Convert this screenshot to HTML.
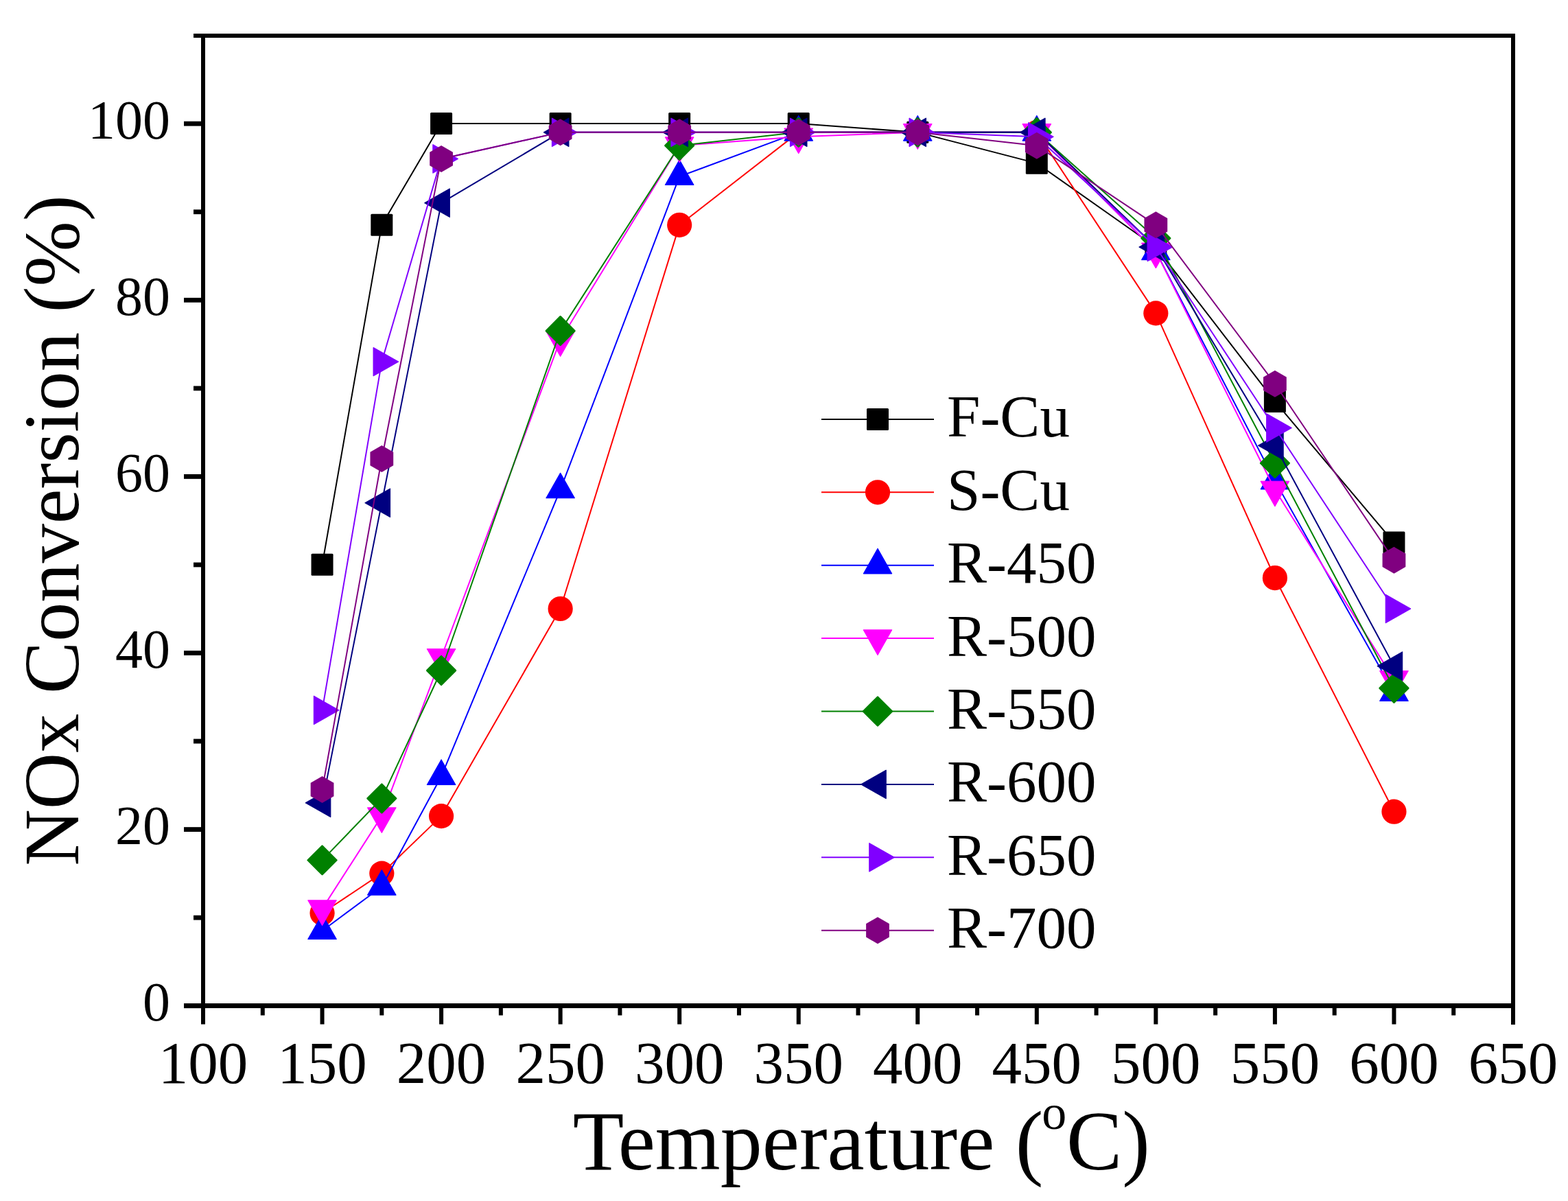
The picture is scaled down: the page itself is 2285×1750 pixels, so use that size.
<!DOCTYPE html><html><head><meta charset="utf-8"><style>html,body{margin:0;padding:0;background:#fff;overflow:hidden;}svg{display:block;}text{font-family:"Liberation Serif","Times New Roman",serif;fill:#000;}</style></head><body>
<svg width="2285" height="1750" viewBox="0 0 2285 1750">
<rect width="2285" height="1750" fill="#fff"/>
<polyline points="469.55,822.75 556.32,327.83 643.09,180.00 816.64,180.00 990.18,180.00 1163.73,180.00 1337.27,192.86 1510.82,237.85 1684.36,359.97 1857.91,584.93 2031.45,790.61" fill="none" stroke="#000000" stroke-width="2" stroke-linejoin="round"/>
<rect x="453.55" y="806.75" width="32.00" height="32.00" rx="1.5" fill="#000000"/>
<rect x="540.32" y="311.83" width="32.00" height="32.00" rx="1.5" fill="#000000"/>
<rect x="627.09" y="164.00" width="32.00" height="32.00" rx="1.5" fill="#000000"/>
<rect x="800.64" y="164.00" width="32.00" height="32.00" rx="1.5" fill="#000000"/>
<rect x="974.18" y="164.00" width="32.00" height="32.00" rx="1.5" fill="#000000"/>
<rect x="1147.73" y="164.00" width="32.00" height="32.00" rx="1.5" fill="#000000"/>
<rect x="1321.27" y="176.86" width="32.00" height="32.00" rx="1.5" fill="#000000"/>
<rect x="1494.82" y="221.85" width="32.00" height="32.00" rx="1.5" fill="#000000"/>
<rect x="1668.36" y="343.97" width="32.00" height="32.00" rx="1.5" fill="#000000"/>
<rect x="1841.91" y="568.93" width="32.00" height="32.00" rx="1.5" fill="#000000"/>
<rect x="2015.45" y="774.61" width="32.00" height="32.00" rx="1.5" fill="#000000"/>
<polyline points="469.55,1330.52 556.32,1272.67 643.09,1189.12 816.64,887.02 990.18,327.83 1163.73,192.86 1337.27,192.86 1510.82,192.86 1684.36,456.38 1857.91,842.03 2031.45,1182.69" fill="none" stroke="#FF0000" stroke-width="2" stroke-linejoin="round"/>
<circle cx="469.55" cy="1330.52" r="18.1" fill="#FF0000"/>
<circle cx="556.32" cy="1272.67" r="18.1" fill="#FF0000"/>
<circle cx="643.09" cy="1189.12" r="18.1" fill="#FF0000"/>
<circle cx="816.64" cy="887.02" r="18.1" fill="#FF0000"/>
<circle cx="990.18" cy="327.83" r="18.1" fill="#FF0000"/>
<circle cx="1163.73" cy="192.86" r="18.1" fill="#FF0000"/>
<circle cx="1337.27" cy="192.86" r="18.1" fill="#FF0000"/>
<circle cx="1510.82" cy="192.86" r="18.1" fill="#FF0000"/>
<circle cx="1684.36" cy="456.38" r="18.1" fill="#FF0000"/>
<circle cx="1857.91" cy="842.03" r="18.1" fill="#FF0000"/>
<circle cx="2031.45" cy="1182.69" r="18.1" fill="#FF0000"/>
<polyline points="469.55,1356.23 556.32,1291.96 643.09,1131.27 816.64,713.48 990.18,257.13 1163.73,192.86 1337.27,192.86 1510.82,192.86 1684.36,366.40 1857.91,700.63 2031.45,1009.15" fill="none" stroke="#0000FF" stroke-width="2" stroke-linejoin="round"/>
<polygon points="469.55,1331.63 490.45,1368.53 448.65,1368.53" fill="#0000FF" stroke="#0000FF" stroke-width="1" stroke-linejoin="bevel"/>
<polygon points="556.32,1267.36 577.22,1304.26 535.42,1304.26" fill="#0000FF" stroke="#0000FF" stroke-width="1" stroke-linejoin="bevel"/>
<polygon points="643.09,1106.67 663.99,1143.57 622.19,1143.57" fill="#0000FF" stroke="#0000FF" stroke-width="1" stroke-linejoin="bevel"/>
<polygon points="816.64,688.88 837.54,725.78 795.74,725.78" fill="#0000FF" stroke="#0000FF" stroke-width="1" stroke-linejoin="bevel"/>
<polygon points="990.18,232.53 1011.08,269.43 969.28,269.43" fill="#0000FF" stroke="#0000FF" stroke-width="1" stroke-linejoin="bevel"/>
<polygon points="1163.73,168.26 1184.63,205.16 1142.83,205.16" fill="#0000FF" stroke="#0000FF" stroke-width="1" stroke-linejoin="bevel"/>
<polygon points="1337.27,168.26 1358.17,205.16 1316.37,205.16" fill="#0000FF" stroke="#0000FF" stroke-width="1" stroke-linejoin="bevel"/>
<polygon points="1510.82,168.26 1531.72,205.16 1489.92,205.16" fill="#0000FF" stroke="#0000FF" stroke-width="1" stroke-linejoin="bevel"/>
<polygon points="1684.36,341.80 1705.26,378.70 1663.46,378.70" fill="#0000FF" stroke="#0000FF" stroke-width="1" stroke-linejoin="bevel"/>
<polygon points="1857.91,676.03 1878.81,712.93 1837.01,712.93" fill="#0000FF" stroke="#0000FF" stroke-width="1" stroke-linejoin="bevel"/>
<polygon points="2031.45,984.55 2052.35,1021.45 2010.55,1021.45" fill="#0000FF" stroke="#0000FF" stroke-width="1" stroke-linejoin="bevel"/>
<polyline points="469.55,1324.10 556.32,1189.12 643.09,957.73 816.64,494.95 990.18,212.14 1163.73,199.28 1337.27,192.86 1510.82,192.86 1684.36,366.40 1857.91,713.48 2031.45,989.87" fill="none" stroke="#FF00FF" stroke-width="2" stroke-linejoin="round"/>
<polygon points="469.55,1348.69 490.45,1311.80 448.65,1311.80" fill="#FF00FF" stroke="#FF00FF" stroke-width="1" stroke-linejoin="bevel"/>
<polygon points="556.32,1213.72 577.22,1176.82 535.42,1176.82" fill="#FF00FF" stroke="#FF00FF" stroke-width="1" stroke-linejoin="bevel"/>
<polygon points="643.09,982.33 663.99,945.43 622.19,945.43" fill="#FF00FF" stroke="#FF00FF" stroke-width="1" stroke-linejoin="bevel"/>
<polygon points="816.64,519.55 837.54,482.65 795.74,482.65" fill="#FF00FF" stroke="#FF00FF" stroke-width="1" stroke-linejoin="bevel"/>
<polygon points="990.18,236.74 1011.08,199.84 969.28,199.84" fill="#FF00FF" stroke="#FF00FF" stroke-width="1" stroke-linejoin="bevel"/>
<polygon points="1163.73,223.88 1184.63,186.98 1142.83,186.98" fill="#FF00FF" stroke="#FF00FF" stroke-width="1" stroke-linejoin="bevel"/>
<polygon points="1337.27,217.46 1358.17,180.56 1316.37,180.56" fill="#FF00FF" stroke="#FF00FF" stroke-width="1" stroke-linejoin="bevel"/>
<polygon points="1510.82,217.46 1531.72,180.56 1489.92,180.56" fill="#FF00FF" stroke="#FF00FF" stroke-width="1" stroke-linejoin="bevel"/>
<polygon points="1684.36,391.00 1705.26,354.10 1663.46,354.10" fill="#FF00FF" stroke="#FF00FF" stroke-width="1" stroke-linejoin="bevel"/>
<polygon points="1857.91,738.08 1878.81,701.18 1837.01,701.18" fill="#FF00FF" stroke="#FF00FF" stroke-width="1" stroke-linejoin="bevel"/>
<polygon points="2031.45,1014.47 2052.35,977.57 2010.55,977.57" fill="#FF00FF" stroke="#FF00FF" stroke-width="1" stroke-linejoin="bevel"/>
<polyline points="469.55,1253.39 556.32,1163.41 643.09,977.01 816.64,482.09 990.18,212.14 1163.73,192.86 1337.27,192.86 1510.82,192.86 1684.36,347.12 1857.91,674.92 2031.45,1002.72" fill="none" stroke="#008000" stroke-width="2" stroke-linejoin="round"/>
<polygon points="469.55,1232.59 490.35,1253.39 469.55,1274.19 448.75,1253.39" fill="#008000" stroke="#008000" stroke-width="2.6" stroke-linejoin="round"/>
<polygon points="556.32,1142.61 577.12,1163.41 556.32,1184.21 535.52,1163.41" fill="#008000" stroke="#008000" stroke-width="2.6" stroke-linejoin="round"/>
<polygon points="643.09,956.21 663.89,977.01 643.09,997.81 622.29,977.01" fill="#008000" stroke="#008000" stroke-width="2.6" stroke-linejoin="round"/>
<polygon points="816.64,461.29 837.44,482.09 816.64,502.89 795.84,482.09" fill="#008000" stroke="#008000" stroke-width="2.6" stroke-linejoin="round"/>
<polygon points="990.18,191.34 1010.98,212.14 990.18,232.94 969.38,212.14" fill="#008000" stroke="#008000" stroke-width="2.6" stroke-linejoin="round"/>
<polygon points="1163.73,172.06 1184.53,192.86 1163.73,213.66 1142.93,192.86" fill="#008000" stroke="#008000" stroke-width="2.6" stroke-linejoin="round"/>
<polygon points="1337.27,172.06 1358.07,192.86 1337.27,213.66 1316.47,192.86" fill="#008000" stroke="#008000" stroke-width="2.6" stroke-linejoin="round"/>
<polygon points="1510.82,172.06 1531.62,192.86 1510.82,213.66 1490.02,192.86" fill="#008000" stroke="#008000" stroke-width="2.6" stroke-linejoin="round"/>
<polygon points="1684.36,326.31 1705.16,347.12 1684.36,367.92 1663.56,347.12" fill="#008000" stroke="#008000" stroke-width="2.6" stroke-linejoin="round"/>
<polygon points="1857.91,654.12 1878.71,674.92 1857.91,695.72 1837.11,674.92" fill="#008000" stroke="#008000" stroke-width="2.6" stroke-linejoin="round"/>
<polygon points="2031.45,981.92 2052.25,1002.72 2031.45,1023.52 2010.65,1002.72" fill="#008000" stroke="#008000" stroke-width="2.6" stroke-linejoin="round"/>
<polyline points="469.55,1169.84 556.32,732.76 643.09,295.69 816.64,192.86 990.18,192.86 1163.73,192.86 1337.27,192.86 1510.82,192.86 1684.36,359.97 1857.91,649.21 2031.45,970.58" fill="none" stroke="#000080" stroke-width="2" stroke-linejoin="round"/>
<polygon points="444.95,1169.84 481.85,1148.93 481.85,1190.74" fill="#000080" stroke="#000080" stroke-width="1" stroke-linejoin="bevel"/>
<polygon points="531.72,732.76 568.62,711.87 568.62,753.66" fill="#000080" stroke="#000080" stroke-width="1" stroke-linejoin="bevel"/>
<polygon points="618.49,295.69 655.39,274.79 655.39,316.59" fill="#000080" stroke="#000080" stroke-width="1" stroke-linejoin="bevel"/>
<polygon points="792.04,192.86 828.94,171.96 828.94,213.76" fill="#000080" stroke="#000080" stroke-width="1" stroke-linejoin="bevel"/>
<polygon points="965.58,192.86 1002.48,171.96 1002.48,213.76" fill="#000080" stroke="#000080" stroke-width="1" stroke-linejoin="bevel"/>
<polygon points="1139.13,192.86 1176.03,171.96 1176.03,213.76" fill="#000080" stroke="#000080" stroke-width="1" stroke-linejoin="bevel"/>
<polygon points="1312.67,192.86 1349.57,171.96 1349.57,213.76" fill="#000080" stroke="#000080" stroke-width="1" stroke-linejoin="bevel"/>
<polygon points="1486.22,192.86 1523.12,171.96 1523.12,213.76" fill="#000080" stroke="#000080" stroke-width="1" stroke-linejoin="bevel"/>
<polygon points="1659.76,359.97 1696.66,339.07 1696.66,380.87" fill="#000080" stroke="#000080" stroke-width="1" stroke-linejoin="bevel"/>
<polygon points="1833.31,649.21 1870.21,628.31 1870.21,670.11" fill="#000080" stroke="#000080" stroke-width="1" stroke-linejoin="bevel"/>
<polygon points="2006.85,970.58 2043.75,949.68 2043.75,991.48" fill="#000080" stroke="#000080" stroke-width="1" stroke-linejoin="bevel"/>
<polyline points="469.55,1034.86 556.32,527.09 643.09,231.42 816.64,192.86 990.18,192.86 1163.73,192.86 1337.27,192.86 1510.82,199.28 1684.36,359.97 1857.91,623.50 2031.45,887.02" fill="none" stroke="#8000FF" stroke-width="2" stroke-linejoin="round"/>
<polygon points="494.15,1034.86 457.25,1013.96 457.25,1055.76" fill="#8000FF" stroke="#8000FF" stroke-width="1" stroke-linejoin="bevel"/>
<polygon points="580.92,527.09 544.02,506.19 544.02,547.99" fill="#8000FF" stroke="#8000FF" stroke-width="1" stroke-linejoin="bevel"/>
<polygon points="667.69,231.42 630.79,210.52 630.79,252.32" fill="#8000FF" stroke="#8000FF" stroke-width="1" stroke-linejoin="bevel"/>
<polygon points="841.24,192.86 804.34,171.96 804.34,213.76" fill="#8000FF" stroke="#8000FF" stroke-width="1" stroke-linejoin="bevel"/>
<polygon points="1014.78,192.86 977.88,171.96 977.88,213.76" fill="#8000FF" stroke="#8000FF" stroke-width="1" stroke-linejoin="bevel"/>
<polygon points="1188.33,192.86 1151.43,171.96 1151.43,213.76" fill="#8000FF" stroke="#8000FF" stroke-width="1" stroke-linejoin="bevel"/>
<polygon points="1361.87,192.86 1324.97,171.96 1324.97,213.76" fill="#8000FF" stroke="#8000FF" stroke-width="1" stroke-linejoin="bevel"/>
<polygon points="1535.42,199.28 1498.52,178.38 1498.52,220.18" fill="#8000FF" stroke="#8000FF" stroke-width="1" stroke-linejoin="bevel"/>
<polygon points="1708.96,359.97 1672.06,339.07 1672.06,380.87" fill="#8000FF" stroke="#8000FF" stroke-width="1" stroke-linejoin="bevel"/>
<polygon points="1882.51,623.50 1845.61,602.60 1845.61,644.40" fill="#8000FF" stroke="#8000FF" stroke-width="1" stroke-linejoin="bevel"/>
<polygon points="2056.05,887.02 2019.15,866.12 2019.15,907.92" fill="#8000FF" stroke="#8000FF" stroke-width="1" stroke-linejoin="bevel"/>
<polyline points="469.55,1150.55 556.32,668.49 643.09,231.42 816.64,192.86 990.18,192.86 1163.73,192.86 1337.27,192.86 1510.82,212.14 1684.36,327.83 1857.91,559.22 2031.45,816.32" fill="none" stroke="#800080" stroke-width="2" stroke-linejoin="round"/>
<polygon points="469.55,1131.05 486.43,1140.80 486.43,1160.30 469.55,1170.05 452.66,1160.30 452.66,1140.80" fill="#800080"/>
<polygon points="556.32,648.99 573.21,658.74 573.21,678.24 556.32,687.99 539.43,678.24 539.43,658.74" fill="#800080"/>
<polygon points="643.09,211.92 659.98,221.67 659.98,241.17 643.09,250.92 626.20,241.17 626.20,221.67" fill="#800080"/>
<polygon points="816.64,173.36 833.52,183.11 833.52,202.61 816.64,212.36 799.75,202.61 799.75,183.11" fill="#800080"/>
<polygon points="990.18,173.36 1007.07,183.11 1007.07,202.61 990.18,212.36 973.29,202.61 973.29,183.11" fill="#800080"/>
<polygon points="1163.73,173.36 1180.61,183.11 1180.61,202.61 1163.73,212.36 1146.84,202.61 1146.84,183.11" fill="#800080"/>
<polygon points="1337.27,173.36 1354.16,183.11 1354.16,202.61 1337.27,212.36 1320.39,202.61 1320.39,183.11" fill="#800080"/>
<polygon points="1510.82,192.64 1527.71,202.39 1527.71,221.89 1510.82,231.64 1493.93,221.89 1493.93,202.39" fill="#800080"/>
<polygon points="1684.36,308.33 1701.25,318.08 1701.25,337.58 1684.36,347.33 1667.48,337.58 1667.48,318.08" fill="#800080"/>
<polygon points="1857.91,539.72 1874.80,549.47 1874.80,568.97 1857.91,578.72 1841.02,568.97 1841.02,549.47" fill="#800080"/>
<polygon points="2031.45,796.82 2048.34,806.57 2048.34,826.07 2031.45,835.82 2014.57,826.07 2014.57,806.57" fill="#800080"/>
<line x1="1197" y1="610.90" x2="1361" y2="610.90" stroke="#000000" stroke-width="2"/>
<rect x="1263.00" y="594.90" width="32.00" height="32.00" rx="1.5" fill="#000000"/>
<text x="1380" y="636.40" font-size="87">F-Cu</text>
<line x1="1197" y1="717.30" x2="1361" y2="717.30" stroke="#FF0000" stroke-width="2"/>
<circle cx="1279.00" cy="717.30" r="18.1" fill="#FF0000"/>
<text x="1380" y="742.80" font-size="87">S-Cu</text>
<line x1="1197" y1="823.70" x2="1361" y2="823.70" stroke="#0000FF" stroke-width="2"/>
<polygon points="1279.00,799.10 1299.90,836.00 1258.10,836.00" fill="#0000FF" stroke="#0000FF" stroke-width="1" stroke-linejoin="bevel"/>
<text x="1380" y="849.20" font-size="87">R-450</text>
<line x1="1197" y1="930.10" x2="1361" y2="930.10" stroke="#FF00FF" stroke-width="2"/>
<polygon points="1279.00,954.70 1299.90,917.80 1258.10,917.80" fill="#FF00FF" stroke="#FF00FF" stroke-width="1" stroke-linejoin="bevel"/>
<text x="1380" y="955.60" font-size="87">R-500</text>
<line x1="1197" y1="1036.50" x2="1361" y2="1036.50" stroke="#008000" stroke-width="2"/>
<polygon points="1279.00,1015.70 1299.80,1036.50 1279.00,1057.30 1258.20,1036.50" fill="#008000" stroke="#008000" stroke-width="2.6" stroke-linejoin="round"/>
<text x="1380" y="1062.00" font-size="87">R-550</text>
<line x1="1197" y1="1142.90" x2="1361" y2="1142.90" stroke="#000080" stroke-width="2"/>
<polygon points="1254.40,1142.90 1291.30,1122.00 1291.30,1163.80" fill="#000080" stroke="#000080" stroke-width="1" stroke-linejoin="bevel"/>
<text x="1380" y="1168.40" font-size="87">R-600</text>
<line x1="1197" y1="1249.30" x2="1361" y2="1249.30" stroke="#8000FF" stroke-width="2"/>
<polygon points="1303.60,1249.30 1266.70,1228.40 1266.70,1270.20" fill="#8000FF" stroke="#8000FF" stroke-width="1" stroke-linejoin="bevel"/>
<text x="1380" y="1274.80" font-size="87">R-650</text>
<line x1="1197" y1="1355.70" x2="1361" y2="1355.70" stroke="#800080" stroke-width="2"/>
<polygon points="1279.00,1336.20 1295.89,1345.95 1295.89,1365.45 1279.00,1375.20 1262.11,1365.45 1262.11,1345.95" fill="#800080"/>
<text x="1380" y="1381.20" font-size="87">R-700</text>
<g fill="#000">
<rect x="293" y="49" width="6" height="1420"/>
<rect x="2202" y="49" width="6" height="1444"/>
<rect x="282" y="49" width="1926" height="6"/>
<rect x="268" y="1462" width="1940" height="7"/>
<rect x="293.00" y="1465" width="6" height="27.50"/>
<rect x="379.77" y="1465" width="6" height="14.50"/>
<rect x="466.55" y="1465" width="6" height="27.50"/>
<rect x="553.32" y="1465" width="6" height="14.50"/>
<rect x="640.09" y="1465" width="6" height="27.50"/>
<rect x="726.86" y="1465" width="6" height="14.50"/>
<rect x="813.64" y="1465" width="6" height="27.50"/>
<rect x="900.41" y="1465" width="6" height="14.50"/>
<rect x="987.18" y="1465" width="6" height="27.50"/>
<rect x="1073.95" y="1465" width="6" height="14.50"/>
<rect x="1160.73" y="1465" width="6" height="27.50"/>
<rect x="1247.50" y="1465" width="6" height="14.50"/>
<rect x="1334.27" y="1465" width="6" height="27.50"/>
<rect x="1421.05" y="1465" width="6" height="14.50"/>
<rect x="1507.82" y="1465" width="6" height="27.50"/>
<rect x="1594.59" y="1465" width="6" height="14.50"/>
<rect x="1681.36" y="1465" width="6" height="27.50"/>
<rect x="1768.14" y="1465" width="6" height="14.50"/>
<rect x="1854.91" y="1465" width="6" height="27.50"/>
<rect x="1941.68" y="1465" width="6" height="14.50"/>
<rect x="2028.45" y="1465" width="6" height="27.50"/>
<rect x="2115.23" y="1465" width="6" height="14.50"/>
<rect x="2202.00" y="1465" width="6" height="27.50"/>
<rect x="268.00" y="1462.30" width="28.00" height="6.8"/>
<rect x="282.00" y="1333.75" width="14.00" height="6.8"/>
<rect x="268.00" y="1205.20" width="28.00" height="6.8"/>
<rect x="282.00" y="1076.65" width="14.00" height="6.8"/>
<rect x="268.00" y="948.10" width="28.00" height="6.8"/>
<rect x="282.00" y="819.55" width="14.00" height="6.8"/>
<rect x="268.00" y="691.00" width="28.00" height="6.8"/>
<rect x="282.00" y="562.45" width="14.00" height="6.8"/>
<rect x="268.00" y="433.90" width="28.00" height="6.8"/>
<rect x="282.00" y="305.35" width="14.00" height="6.8"/>
<rect x="268.00" y="176.80" width="28.00" height="6.8"/>
</g>
<text x="296.00" y="1578" font-size="87" text-anchor="middle">100</text>
<text x="469.55" y="1578" font-size="87" text-anchor="middle">150</text>
<text x="643.09" y="1578" font-size="87" text-anchor="middle">200</text>
<text x="816.64" y="1578" font-size="87" text-anchor="middle">250</text>
<text x="990.18" y="1578" font-size="87" text-anchor="middle">300</text>
<text x="1163.73" y="1578" font-size="87" text-anchor="middle">350</text>
<text x="1337.27" y="1578" font-size="87" text-anchor="middle">400</text>
<text x="1510.82" y="1578" font-size="87" text-anchor="middle">450</text>
<text x="1684.36" y="1578" font-size="87" text-anchor="middle">500</text>
<text x="1857.91" y="1578" font-size="87" text-anchor="middle">550</text>
<text x="2031.45" y="1578" font-size="87" text-anchor="middle">600</text>
<text x="2205.00" y="1578" font-size="87" text-anchor="middle">650</text>
<text x="248" y="1487.40" font-size="80" text-anchor="end">0</text>
<text x="248" y="1230.30" font-size="80" text-anchor="end">20</text>
<text x="248" y="973.20" font-size="80" text-anchor="end">40</text>
<text x="248" y="716.10" font-size="80" text-anchor="end">60</text>
<text x="248" y="459.00" font-size="80" text-anchor="end">80</text>
<text x="248" y="201.90" font-size="80" text-anchor="end">100</text>
<text x="834.7" y="1703.6" font-size="122">Temperature (</text>
<text x="1518.3" y="1645.2" font-size="72">o</text>
<text x="1554" y="1703.6" font-size="122">C)</text>
<text transform="translate(114.3,773) rotate(-90)" font-size="114.3" text-anchor="middle">NOx Conversion (%)</text>
</svg></body></html>
